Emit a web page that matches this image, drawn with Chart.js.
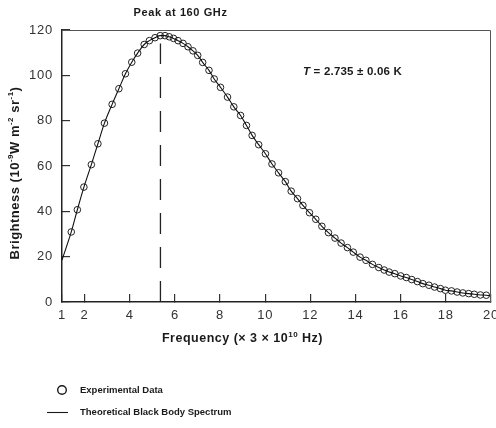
<!DOCTYPE html>
<html>
<head>
  <title>Black Body Spectrum</title>
  <script src="https://cdn.jsdelivr.net/npm/chart.js"></script>
  <style>
    html, body { margin: 0; padding: 0; background: #fff; overflow: hidden; }
  </style>
</head>
<body>
  <canvas id="spectrum" width="496" height="428"></canvas>

  <script>
    // frequency in units of 3 x 10^10 Hz, brightness in 10^-9 W m^-2 sr^-1
    const freq = [1.41, 1.68, 1.97, 2.30, 2.59, 2.88, 3.22, 3.52, 3.81, 4.09,
      4.35, 4.64, 4.87, 5.12, 5.35, 5.56, 5.75, 5.94, 6.14, 6.36,
      6.58, 6.80, 7.01, 7.23, 7.51, 7.74, 8.02, 8.33, 8.61, 8.91,
      9.17, 9.42, 9.71, 10.01, 10.30, 10.59, 10.89, 11.15, 11.43, 11.67,
      11.96, 12.24, 12.51, 12.80, 13.09, 13.36, 13.64, 13.90, 14.20, 14.46,
      14.75, 15.03, 15.27, 15.49, 15.74, 16.00, 16.25, 16.49, 16.74, 16.98,
      17.25, 17.50, 17.76, 17.98, 18.25, 18.50, 18.75, 19.01, 19.26, 19.53, 19.79];
    const brightness = [30.9, 40.7, 50.7, 60.6, 69.8, 78.9, 87.2, 94.1, 100.7, 105.8,
      109.8, 113.6, 115.3, 116.6, 117.5, 117.5, 117.0, 116.3, 115.3, 114.1,
      112.6, 110.8, 108.8, 105.7, 102.2, 98.4, 94.7, 90.4, 86.1, 82.3,
      77.9, 73.5, 69.4, 65.4, 60.9, 57.0, 53.1, 48.9, 45.6, 42.6,
      39.4, 36.5, 33.4, 30.6, 28.2, 26.0, 24.0, 22.0, 19.8, 18.4,
      16.6, 15.2, 14.1, 13.2, 12.5, 11.5, 10.8, 9.9, 9.0, 8.1,
      7.4, 6.6, 5.9, 5.2, 4.9, 4.4, 4.0, 3.7, 3.4, 3.1, 3.0];

    // theoretical curve runs past the data at both ends
    const curveStart = [1, 18.5];
    const curveEnd = [20, 2.7];

    // dashed marker at the peak (160 GHz)
    const peakFreq = 5.36;
    const peakTop = 114;

    const xTicks = [1, 2, 4, 6, 8, 10, 12, 14, 16, 18, 20];
    const yTicks = [0, 20, 40, 60, 80, 100, 120];

    const FONT = '"Liberation Sans", Arial, Helvetica, sans-serif';

    const curveX = [curveStart[0], ...freq, curveEnd[0]];
    const curveY = [curveStart[1], ...brightness, curveEnd[1]];

    // bold text with raised small parts, centred on (cx, cy)
    function drawParts(ctx, parts, size, cx, cy, spacing) {
      const big = 'bold ' + size + 'px ' + FONT;
      const small = 'bold ' + Math.round(size * 0.62) + 'px ' + FONT;
      ctx.letterSpacing = spacing + 'px';
      let w = 0;
      parts.forEach(p => { ctx.font = p[1] ? small : big; w += ctx.measureText(p[0]).width; });
      let x = cx - w / 2;
      ctx.textAlign = 'left';
      ctx.textBaseline = 'middle';
      parts.forEach(p => {
        ctx.font = p[1] ? small : big;
        ctx.fillText(p[0], x, p[1] ? cy - size * 0.32 : cy);
        x += ctx.measureText(p[0]).width;
      });
    }

    // slightly loose lettering, like the printed figure
    const spacing = {
      id: 'spacing',
      beforeDraw(chart) { chart.ctx.letterSpacing = '0.8px'; }
    };

    const decorations = {
      id: 'decorations',
      afterDraw(chart) {
        const ctx = chart.ctx;
        const area = chart.chartArea;
        ctx.save();

        // thin frame on top and right
        ctx.strokeStyle = '#555';
        ctx.lineWidth = 1;
        ctx.beginPath();
        ctx.moveTo(Math.round(area.left), Math.round(area.top) + 0.5);
        ctx.lineTo(Math.round(area.right) - 0.5, Math.round(area.top) + 0.5);
        ctx.lineTo(Math.round(area.right) - 0.5, Math.round(area.bottom));
        ctx.stroke();

        ctx.fillStyle = '#1a1a1a';
        ctx.letterSpacing = '0.6px';
        ctx.textAlign = 'center';
        ctx.textBaseline = 'middle';
        ctx.font = 'bold 11px ' + FONT;
        ctx.fillText('Peak at 160 GHz', 180.5, 12.5);

        // temperature note
        ctx.letterSpacing = '0.2px';
        ctx.textAlign = 'left';
        ctx.font = 'italic bold 11.5px ' + FONT;
        ctx.fillText('T', 303, 71.5);
        const tw = ctx.measureText('T').width;
        ctx.font = 'bold 11.5px ' + FONT;
        ctx.fillText(' = 2.735 \u00b1 0.06 K', 303 + tw, 71.5);

        // axis titles
        drawParts(ctx, [['Frequency (\u00d7 3 \u00d7 10', false], ['10', true], [' Hz)', false]], 12.5, 242.5, 339, 0.5);
        ctx.save();
        ctx.translate(15, 173);
        ctx.rotate(-Math.PI / 2);
        drawParts(ctx, [['Brightness (10', false], ['-9', true], ['W m', false], ['-2', true],
          [' sr', false], ['-1', true], [')', false]], 13, 0, 0, 0.5);
        ctx.restore();

        // legend
        ctx.letterSpacing = '0px';
        ctx.strokeStyle = '#1a1a1a';
        ctx.lineWidth = 1.4;
        ctx.beginPath();
        ctx.arc(62, 390, 4.3, 0, Math.PI * 2);
        ctx.stroke();
        ctx.lineWidth = 1.1;
        ctx.beginPath();
        ctx.moveTo(47, 412.5);
        ctx.lineTo(68, 412.5);
        ctx.stroke();
        ctx.font = 'bold 9.5px ' + FONT;
        ctx.textAlign = 'left';
        ctx.textBaseline = 'middle';
        ctx.fillText('Experimental Data', 80, 390);
        ctx.fillText('Theoretical Black Body Spectrum', 80, 412.5);
        ctx.restore();
      }
    };

    const ctx = document.getElementById('spectrum').getContext('2d');
    new Chart(ctx, {
      type: 'scatter',
      data: {
        datasets: [
          {
            label: 'Theoretical Black Body Spectrum',
            data: curveX.map((x, i) => ({ x: x, y: curveY[i] })),
            showLine: true,
            cubicInterpolationMode: 'monotone',
            borderColor: '#111',
            borderWidth: 1.1,
            pointRadius: 0
          },
          {
            label: 'Experimental Data',
            data: freq.map((x, i) => ({ x: x, y: brightness[i] })),
            showLine: false,
            pointRadius: 3.3,
            pointBorderWidth: 1,
            pointBorderColor: '#222',
            pointBackgroundColor: 'rgba(0,0,0,0)'
          },
          {
            label: 'Peak',
            data: [{ x: peakFreq, y: 0 }, { x: peakFreq, y: peakTop }],
            showLine: true,
            borderDash: [21, 13],
            borderColor: '#222',
            borderWidth: 1.3,
            pointRadius: 0
          }
        ]
      },
      options: {
        responsive: false,
        animation: false,
        devicePixelRatio: 1,
        layout: { padding: { top: 30, right: 4, bottom: 0, left: 0 } },
        plugins: { legend: { display: false }, tooltip: { enabled: false } },
        scales: {
          x: {
            type: 'linear',
            min: 1,
            max: 20,
            afterBuildTicks: s => { s.ticks = xTicks.map(v => ({ value: v })); },
            afterFit: s => { s.height = 126; s.paddingLeft = 0; s.paddingRight = 0; },
            grid: { drawOnChartArea: false, tickLength: -8, color: '#333', lineWidth: 1.2 },
            border: { color: '#222', width: 1.5 },
            ticks: { padding: 14, color: '#333', font: { family: FONT, size: 13 } }
          },
          y: {
            min: 0,
            max: 120,
            afterBuildTicks: s => { s.ticks = yTicks.map(v => ({ value: v })); },
            afterFit: s => { s.width = 62; s.paddingTop = 0; s.paddingBottom = 0; },
            grid: { drawOnChartArea: false, tickLength: -8, color: '#333', lineWidth: 1.2 },
            border: { color: '#222', width: 1.5 },
            ticks: { padding: 17, color: '#333', font: { family: FONT, size: 13 } }
          }
        }
      },
      plugins: [spacing, decorations]
    });
  </script>
</body>
</html>
